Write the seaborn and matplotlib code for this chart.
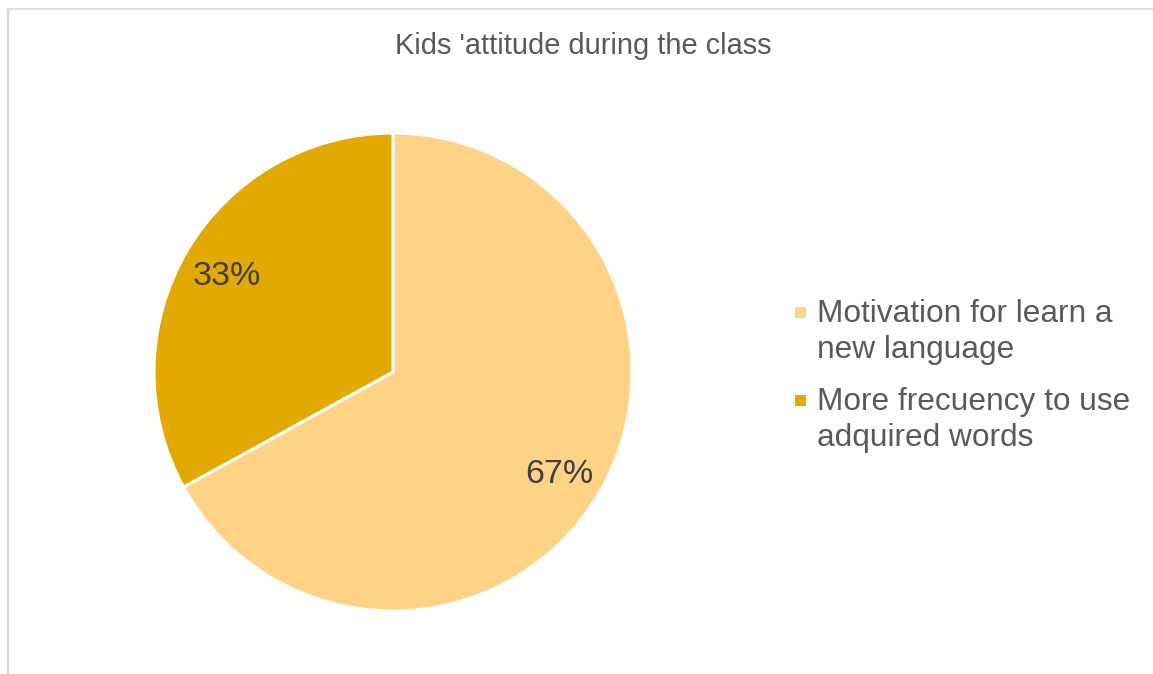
import matplotlib
matplotlib.use("Agg")
import matplotlib.pyplot as plt
import seaborn as sns
from matplotlib.lines import Line2D
from matplotlib.patches import Rectangle

# Chart content
title_text = "Kids 'attitude during the class"
categories = ["Motivation for learn a\nnew language",
              "More frecuency to use\nadquired words"]
shares = [67, 33]
slice_colors = ["#FFD286", "#E2AA00"]

sns.set_theme(style="white")
plt.rcParams["font.family"] = ["Liberation Sans", "DejaVu Sans"]

W, H = 1153, 674
fig = plt.figure(figsize=(W / 100, H / 100), dpi=100)
fig.patch.set_facecolor("white")

# Pie axes: centre and radius in pixels
cx, cy, r = 393, 372, 239
ax = fig.add_axes([(cx - r) / W, (H - cy - r) / H, 2 * r / W, 2 * r / H])
palette = sns.color_palette(slice_colors)
wedges, texts, autotexts = ax.pie(
    shares,
    colors=palette,
    startangle=90,
    counterclock=False,
    autopct=lambda p: f"{round(p):d}%",
    pctdistance=0.81,
    wedgeprops=dict(edgecolor="white", linewidth=2.2),
    textprops=dict(color="#404040", fontsize=24.5),
)
for t in autotexts:
    t.set_verticalalignment("center_baseline")
ax.set_xlim(-1, 1)
ax.set_ylim(-1, 1)
ax.set_aspect("equal")
ax.axis("off")

# Title
fig.text(583 / W, 1 - 54 / H, title_text, ha="center", va="baseline",
         fontsize=20.9, color="#595959")

# Legend: square key aligned with the first line of each label
legend_x_key, legend_x_text = 795, 817
first_baseline, entry_step, line_step = 322, 88, 36
key_size = 11
for i, (label, col) in enumerate(zip(categories, palette)):
    base = first_baseline + i * entry_step
    fig.patches.append(Rectangle((legend_x_key / W, 1 - (base - 4) / H),
                                 key_size / W, key_size / H,
                                 transform=fig.transFigure, facecolor=col,
                                 edgecolor="none"))
    for j, line in enumerate(label.split("\n")):
        fig.text(legend_x_text / W, 1 - (base + j * line_step) / H, line,
                 ha="left", va="baseline", fontsize=22.8, color="#595959")

# Chart-area frame (left and top edges visible)
frame_col = "#D9D9D9"
fig.add_artist(Line2D([7.5 / W, 7.5 / W], [0, 1 - 8.5 / H],
                      transform=fig.transFigure, color=frame_col, lw=1.5))
fig.add_artist(Line2D([7 / W, 1], [1 - 8.5 / H, 1 - 8.5 / H],
                      transform=fig.transFigure, color=frame_col, lw=1.2))

fig.savefig("out.png", dpi=100, facecolor="white")
